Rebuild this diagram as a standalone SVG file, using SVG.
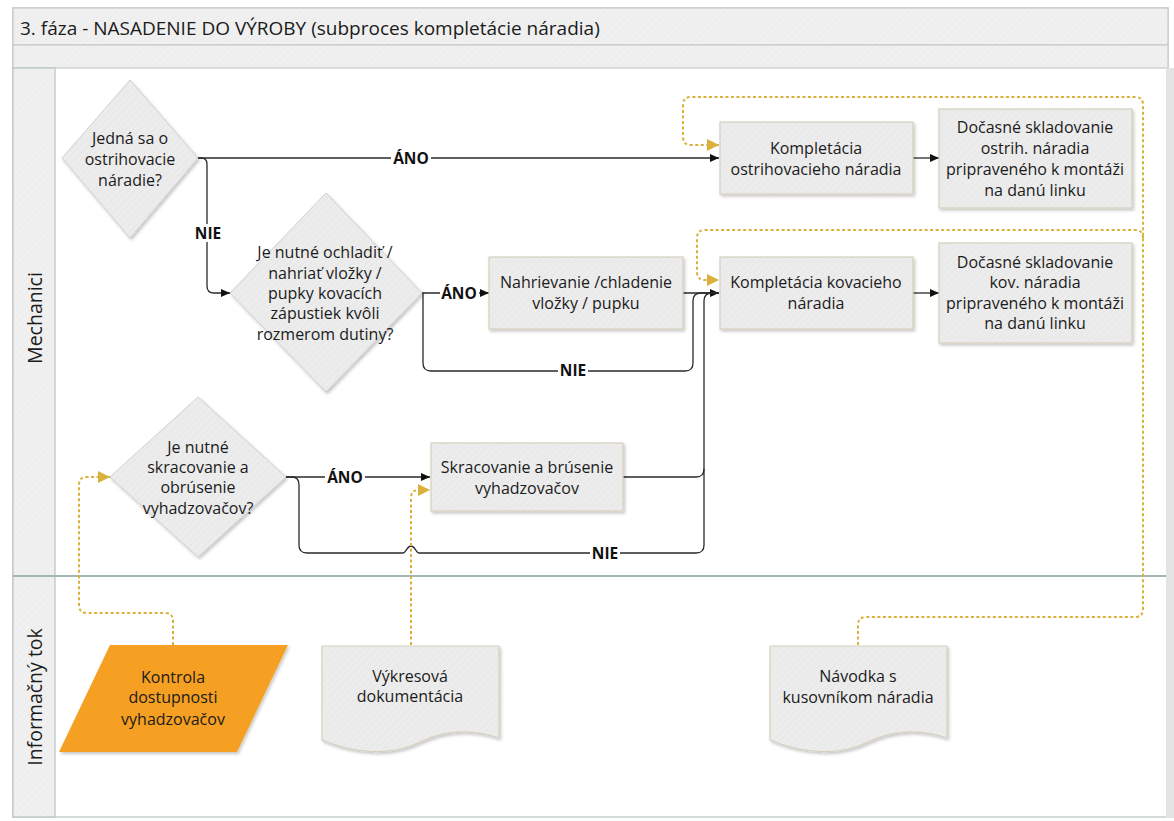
<svg xmlns="http://www.w3.org/2000/svg" width="1174" height="821" viewBox="0 0 1174 821">
  <defs>
    <pattern id="hatch" width="5" height="5" patternUnits="userSpaceOnUse" patternTransform="rotate(45)">
      <rect width="5" height="5" fill="#ececec"/>
      <line x1="0" y1="0" x2="0" y2="5" stroke="#e6e6e6" stroke-width="1.5"/>
    </pattern>
    <pattern id="bandHatch" width="5" height="5" patternUnits="userSpaceOnUse" patternTransform="rotate(45)">
      <rect width="5" height="5" fill="#f0f0f0"/>
      <line x1="0" y1="0" x2="0" y2="5" stroke="#ebebeb" stroke-width="1.5"/>
    </pattern>
    <filter id="shadow" x="-10%" y="-10%" width="130%" height="130%">
      <feDropShadow dx="1.5" dy="2" stdDeviation="1.5" flood-color="#000" flood-opacity="0.22"/>
    </filter>
    <marker id="arrow" viewBox="0 0 9 8" refX="9" refY="4" markerWidth="9" markerHeight="8" markerUnits="userSpaceOnUse" orient="auto">
      <path d="M0,0 L9,4 L0,8 z" fill="#111"/>
    </marker>
    <marker id="arrowGold" viewBox="0 0 12 12" refX="12" refY="6" markerWidth="12" markerHeight="12" markerUnits="userSpaceOnUse" orient="auto">
      <path d="M0,0 L12,6 L0,12 z" fill="#d9b13c"/>
    </marker>
  </defs>
  <style>
    .txt { font-family: "Open Sans", "Noto Sans", "Liberation Sans", sans-serif; font-size: 16px; fill: #1b1b1b; text-anchor: middle; dominant-baseline: central; }
    .title { font-family: "Open Sans", "Noto Sans", "Liberation Sans", sans-serif; font-size: 19px; fill: #1b1b1b; dominant-baseline: central; }
    .lane { font-family: "Open Sans", "Noto Sans", "Liberation Sans", sans-serif; font-size: 19.5px; fill: #1b1b1b; text-anchor: middle; dominant-baseline: central; }
    .lbl { font-family: "Open Sans", "Noto Sans", "Liberation Sans", sans-serif; font-size: 15.5px; font-weight: bold; fill: #111; text-anchor: middle; dominant-baseline: central; }
    .box { fill: url(#hatch); stroke: #d5cfbc; stroke-width: 1.2; filter: url(#shadow); }
    .dia { fill: url(#hatch); stroke: #cfcfcf; stroke-width: 1; filter: url(#shadow); }
    .flow { fill: none; stroke: #2a2a2a; stroke-width: 1.3; }
    .info { fill: none; stroke: #d9b13c; stroke-width: 2; stroke-dasharray: 3 2.5; }
    .lblbg { fill: #fff; }
  </style>

  <!-- pool frame and swimlanes -->
  <g id="pool">
    <rect x="13" y="8" width="1155" height="809" fill="#fff" stroke="#b9c4c1" stroke-width="1.2"/>
    <rect x="13" y="8" width="1155" height="37" fill="url(#bandHatch)" stroke="#c3ccc9" stroke-width="1.2"/>
    <rect x="13" y="45" width="1155" height="23" fill="url(#bandHatch)" stroke="#c3ccc9" stroke-width="1.2"/>
    <text class="title" x="20" y="28">3. fáza - NASADENIE DO VÝROBY (subproces kompletácie náradia)</text>
    <rect x="13" y="68" width="42" height="749" fill="url(#bandHatch)" stroke="#b9c4c1" stroke-width="1.2"/>
    <line x1="13" y1="576" x2="1168" y2="576" stroke="#a7b5b2" stroke-width="1.8"/>
    <rect x="1166" y="68" width="8" height="750" fill="#e4e4e4"/>
    <text class="lane" transform="translate(34,318) rotate(-90)">Mechanici</text>
    <text class="lane" transform="translate(34,697) rotate(-90)">Informačný tok</text>
  </g>

  <!-- connectors -->
  <g id="connectors">
    <!-- process flow -->
    <path class="flow" d="M198,158 H719" marker-end="url(#arrow)"/>
    <path class="flow" d="M198,158 H201 Q207,158 207,164 V286 Q207,293 214,293 H230" marker-end="url(#arrow)"/>
    <path class="flow" d="M913,158 H939" marker-end="url(#arrow)"/>
    <path class="flow" d="M422,293 H489" marker-end="url(#arrow)"/>
    <path class="flow" d="M423,293 V363 Q423,371 431,371 H685 Q693,371 693,363 V301 Q693,293 701,293 H719"/>
    <path class="flow" d="M683,293 H719" marker-end="url(#arrow)"/>
    <path class="flow" d="M913,293 H939" marker-end="url(#arrow)"/>
    <path class="flow" d="M286,477 H430" marker-end="url(#arrow)"/>
    <path class="flow" d="M623,477 H696 Q704,477 704,469 V301 Q704,293 712,293 H719"/>
    <path class="flow" d="M286,477 H292 Q299,477 299,485 V545 Q299,553 307,553 H403 C406,553 407,546 411,546 C415,546 416,553 419,553 H696 Q704,553 704,545 V469"/>

    <!-- information flow -->
    <path class="info" d="M858,645 V625 Q858,617 866,617 H1135 Q1143,617 1143,609 V105 Q1143,97 1135,97 H691 Q683,97 683,105 V137 Q683,145 691,145 H719" marker-end="url(#arrowGold)"/>
    <path class="info" d="M1143,238 Q1143,230 1135,230 H705 Q697,230 697,238 V272 Q697,280 705,280 H719" marker-end="url(#arrowGold)"/>
    <path class="info" d="M411,645 V498 Q411,490 419,490 H430" marker-end="url(#arrowGold)"/>
    <path class="info" d="M173,645 V621 Q173,613 165,613 H87 Q79,613 79,605 V485 Q79,477 87,477 H110" marker-end="url(#arrowGold)"/>

    <!-- connector labels -->
    <rect class="lblbg" x="391" y="149" width="40" height="18"/>
    <text class="lbl" x="411" y="158">ÁNO</text>
    <rect class="lblbg" x="193" y="224" width="30" height="18"/>
    <text class="lbl" x="208" y="233">NIE</text>
    <rect class="lblbg" x="440" y="284" width="39" height="18"/>
    <text class="lbl" x="459" y="293">ÁNO</text>
    <rect class="lblbg" x="558" y="362" width="30" height="18"/>
    <text class="lbl" x="573" y="370">NIE</text>
    <rect class="lblbg" x="325" y="468" width="40" height="18"/>
    <text class="lbl" x="345" y="477">ÁNO</text>
    <rect class="lblbg" x="590" y="544" width="30" height="18"/>
    <text class="lbl" x="605" y="553">NIE</text>
  </g>

  <!-- decisions -->
  <g id="d-ostrihovacie">
    <polygon class="dia" points="130,80 198,158 130,238 62,158"/>
    <text class="txt" x="130" y="138">Jedná sa o</text>
    <text class="txt" x="130" y="159">ostrihovacie</text>
    <text class="txt" x="130" y="180">náradie?</text>
  </g>
  <g id="d-ochladit">
    <polygon class="dia" points="326,193 422,293 326,392 230,293"/>
    <text class="txt" x="325" y="252">Je nutné ochladiť /</text>
    <text class="txt" x="325" y="273">nahriať vložky /</text>
    <text class="txt" x="325" y="293">pupky kovacích</text>
    <text class="txt" x="325" y="313">zápustiek kvôli</text>
    <text class="txt" x="325" y="334">rozmerom dutiny?</text>
  </g>
  <g id="d-skracovanie">
    <polygon class="dia" points="198,397 286,477 198,557 110,477"/>
    <text class="txt" x="198" y="447">Je nutné</text>
    <text class="txt" x="198" y="467">skracovanie a</text>
    <text class="txt" x="198" y="487">obrúsenie</text>
    <text class="txt" x="198" y="508">vyhadzovačov?</text>
  </g>

  <!-- processes -->
  <g id="p-kompletacia-ostrih">
    <rect class="box" x="720" y="122" width="193" height="72"/>
    <text class="txt" x="816" y="148">Kompletácia</text>
    <text class="txt" x="816" y="169">ostrihovacieho náradia</text>
  </g>
  <g id="p-sklad-ostrih">
    <rect class="box" x="939" y="109" width="193" height="99"/>
    <text class="txt" x="1035" y="127">Dočasné skladovanie</text>
    <text class="txt" x="1035" y="148">ostrih. náradia</text>
    <text class="txt" x="1035" y="169">pripraveného k montáži</text>
    <text class="txt" x="1035" y="190">na danú linku</text>
  </g>
  <g id="p-nahrievanie">
    <rect class="box" x="489" y="257" width="194" height="72"/>
    <text class="txt" x="586" y="282">Nahrievanie /chladenie</text>
    <text class="txt" x="586" y="303">vložky / pupku</text>
  </g>
  <g id="p-kompletacia-kov">
    <rect class="box" x="720" y="257" width="193" height="72"/>
    <text class="txt" x="816" y="282">Kompletácia kovacieho</text>
    <text class="txt" x="816" y="303">náradia</text>
  </g>
  <g id="p-sklad-kov">
    <rect class="box" x="939" y="243" width="193" height="100"/>
    <text class="txt" x="1035" y="262">Dočasné skladovanie</text>
    <text class="txt" x="1035" y="282">kov. náradia</text>
    <text class="txt" x="1035" y="303">pripraveného k montáži</text>
    <text class="txt" x="1035" y="323">na danú linku</text>
  </g>
  <g id="p-skracovanie">
    <rect class="box" x="431" y="443" width="192" height="68"/>
    <text class="txt" x="527" y="467">Skracovanie a brúsenie</text>
    <text class="txt" x="527" y="488">vyhadzovačov</text>
  </g>

  <!-- information lane -->
  <g id="io-kontrola">
    <polygon points="110,645 288,645 237,752 59,752" fill="#f5a021" filter="url(#shadow)"/>
    <text class="txt" x="173" y="677">Kontrola</text>
    <text class="txt" x="173" y="697">dostupnosti</text>
    <text class="txt" x="173" y="719">vyhadzovačov</text>
  </g>
  <g id="doc-vykresova">
    <path class="box" d="M322,646 H499 V738 C470,728 445,730 420,742 C392,756 355,754 322,740 Z"/>
    <text class="txt" x="410" y="676">Výkresová</text>
    <text class="txt" x="410" y="696">dokumentácia</text>
  </g>
  <g id="doc-navodka">
    <path class="box" d="M770,646 H947 V738 C918,728 893,730 868,742 C840,756 803,754 770,740 Z"/>
    <text class="txt" x="858" y="676">Návodka s</text>
    <text class="txt" x="858" y="697">kusovníkom náradia</text>
  </g>
</svg>
